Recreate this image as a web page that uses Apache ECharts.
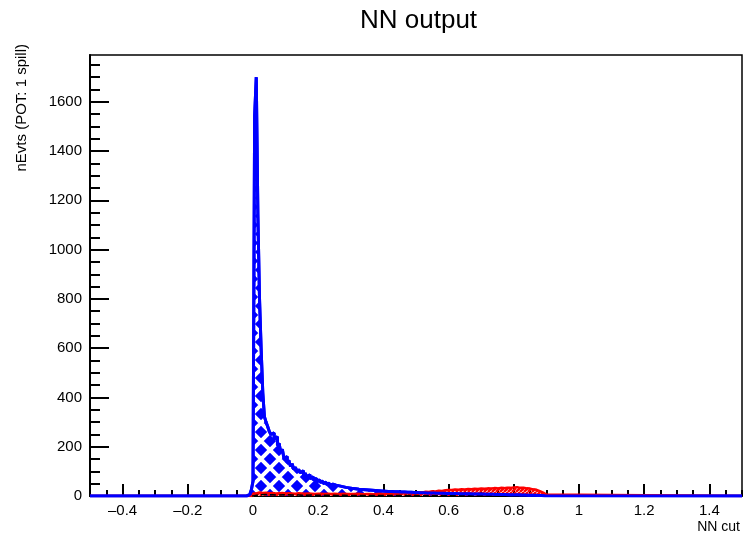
<!DOCTYPE html>
<html>
<head>
<meta charset="utf-8">
<script src="https://cdn.jsdelivr.net/npm/echarts@6/dist/echarts.min.js"></script>
<style>
  html, body { margin: 0; padding: 0; background: #fff; }
  #main { width: 748px; height: 540px; }
</style>
</head>
<body>
<div id="main"></div>
<script>
// x range and tick labels
const xMin = -0.5, xMax = 1.5;
const xLabels = [-0.4, -0.2, 0, 0.2, 0.4, 0.6, 0.8, 1, 1.2, 1.4];
const yMax = 1790;
const yLabels = [0, 200, 400, 600, 800, 1000, 1200, 1400, 1600];

// blue histogram: bins of 0.005 starting at -0.02
const blueStart = -0.02, blueWidth = 0.005;
const blueCounts = [
  2, 5, 10, 25,
  60, 1540, 1700, 1140, 800, 595, 420, 322, 300, 282,
  262, 250, 256, 232, 240, 205, 214, 178, 190, 152,
  160, 134, 145, 120, 131, 108, 117, 99, 108, 94,
  102, 84, 93, 78, 86, 70, 78, 64, 72, 58,
  66, 55, 60, 50, 56, 46, 52, 43, 48, 40,
  44, 37, 41, 34, 38, 32, 35, 30, 33, 28,
  31, 26, 29, 25, 27, 23, 26, 22, 25, 21,
  24, 20, 23, 19, 22, 18, 21, 17, 20, 17,
  19, 16, 18, 15, 18, 15, 17, 14, 17, 14,
  16, 13, 16, 13, 15, 12, 15, 12, 14, 12,
  14, 11, 13, 11, 13, 11, 12, 10, 12, 10,
  12, 10, 11, 9, 11, 9, 11, 9, 10, 9,
  10, 8, 10, 8, 10, 8, 9, 8, 9, 7,
  9, 7, 9, 7, 8, 7, 8, 6, 8, 6,
  8, 6, 7, 6, 7, 5, 7, 5, 6, 5,
  6, 5, 6, 4, 6, 4, 5, 4, 5, 4,
  5, 3, 5, 3, 4, 3, 4, 3, 3, 2,
  3, 2, 3, 2, 2, 2, 2, 1, 1, 1
];

// red histogram: bins of 0.01 from 0
const redStart = 0, redWidth = 0.01;
const redCounts = [
  10, 14, 12, 13, 11, 12, 10, 11, 12, 10,
  11, 10, 9, 11, 10, 9, 10, 9, 8, 9,
  9, 8, 9, 8, 9, 8, 8, 9, 8, 8,
  8, 9, 8, 7, 8, 8, 7, 8, 9, 8,
  9, 10, 10, 11, 12, 11, 13, 12, 14, 13,
  15, 14, 17, 16, 19, 18, 21, 20, 23, 24,
  24, 26, 25, 27, 26, 28, 27, 29, 28, 30,
  29, 31, 30, 32, 31, 33, 32, 34, 33, 35,
  36, 33, 34, 31, 30, 27, 25, 20, 14, 6
];

// black dashed histogram: bins of 0.02 from 0
const blackStart = 0, blackWidth = 0.02;
const blackCounts = [
  5, 6, 5, 4, 5, 4, 4, 3, 4, 3,
  3, 3, 2, 3, 2, 2, 2, 2, 2, 2,
  2, 2, 2, 2, 2, 1, 1, 1, 1, 1,
  1, 1, 1, 1, 1, 1, 1, 1, 1, 1,
  1, 1, 1, 1, 0
];

// turn bin counts into step points (whole x range so zero runs along the axis)
function histPoints(start, width, counts) {
  const pts = [[xMin, 0]];
  counts.forEach((c, i) => pts.push([+(start + i * width).toFixed(4), c]));
  pts.push([+(start + counts.length * width).toFixed(4), 0]);
  pts.push([xMax, 0]);
  return pts;
}

// hatch pattern tiles
function hatch(bg, fg, size, lw, both) {
  const c = document.createElement('canvas');
  c.width = c.height = size;
  const g = c.getContext('2d');
  if (bg) { g.fillStyle = bg; g.fillRect(0, 0, size, size); }
  g.strokeStyle = fg;
  g.lineWidth = lw;
  g.beginPath();
  for (let o = -size; o <= size; o += size) {
    g.moveTo(o, size); g.lineTo(o + size, 0);
    if (both) { g.moveTo(o, 0); g.lineTo(o + size, size); }
  }
  g.stroke();
  return c;
}

function ticks(from, to, step) {
  const out = [];
  for (let v = from; v <= to + 1e-9; v += step) out.push(+v.toFixed(4));
  return out;
}

const chart = echarts.init(document.getElementById('main'));
const font = 'Liberation Sans, Helvetica, Arial, sans-serif';

const option = {
  animation: false,
  title: {
    text: 'NN output',
    left: 355, top: 3,
    textStyle: { fontFamily: font, fontSize: 26, fontWeight: 'normal', color: '#000' }
  },
  grid: {
    left: 90, right: 6, top: 55, bottom: 44,
    show: true, borderColor: '#000', borderWidth: 1.5, backgroundColor: '#fff'
  },
  xAxis: [
    {
      type: 'value', min: xMin, max: xMax,
      axisLine: { onZero: false, lineStyle: { color: '#000', width: 2 } },
      axisTick: { inside: true, length: 12, lineStyle: { color: '#000', width: 2 }, customValues: xLabels },
      axisLabel: {
        customValues: xLabels, color: '#000', fontFamily: font, fontSize: 15, margin: 7,
        formatter: v => String(v).replace('-', '\u2013')
      },
      splitLine: { show: false }
    },
    {
      type: 'value', min: xMin, max: xMax, position: 'bottom',
      axisLine: { show: false, onZero: false },
      axisTick: { inside: true, length: 6, lineStyle: { color: '#000', width: 2 }, customValues: ticks(-0.5, 1.5, 0.05) },
      axisLabel: { show: false },
      splitLine: { show: false }
    }
  ],
  yAxis: [
    {
      type: 'value', min: 0, max: yMax,
      axisLine: { show: true, onZero: false, lineStyle: { color: '#000', width: 2 } },
      axisTick: { show: true, inside: true, length: 19, lineStyle: { color: '#000', width: 2 }, customValues: yLabels },
      axisLabel: { customValues: yLabels, color: '#000', fontFamily: font, fontSize: 15, margin: 8, formatter: v => String(v) },
      splitLine: { show: false }
    },
    {
      type: 'value', min: 0, max: yMax, position: 'left',
      axisLine: { show: false, onZero: false },
      axisTick: { show: true, inside: true, length: 10, lineStyle: { color: '#000', width: 2 }, customValues: ticks(0, 1750, 50) },
      axisLabel: { show: false },
      splitLine: { show: false }
    }
  ],
  series: [
    {
      type: 'line', step: 'end', symbol: 'none', clip: true,
      data: histPoints(blueStart, blueWidth, blueCounts),
      lineStyle: { color: '#0000ff', width: 3 },
      areaStyle: { color: { image: hatch('#0000ff', '#ffffff', 18, 4, true), repeat: 'repeat' }, opacity: 1 },
      z: 2
    },
    {
      type: 'line', step: 'end', symbol: 'none', clip: true,
      data: histPoints(redStart, redWidth, redCounts),
      lineStyle: { color: '#ff0000', width: 2.5 },
      areaStyle: { color: { image: hatch(null, '#ff0000', 4, 2.4, false), repeat: 'repeat' }, opacity: 1 },
      z: 3
    },
    {
      type: 'line', step: 'end', symbol: 'none', clip: true,
      data: histPoints(blackStart, blackWidth, blackCounts),
      lineStyle: { color: '#000', width: 1.5, type: 'dashed' },
      z: 4
    },
    {
      type: 'line', step: 'end', symbol: 'none', clip: true,
      data: histPoints(blueStart, blueWidth, blueCounts),
      lineStyle: { color: '#0000ff', width: 3 },
      z: 5
    }
  ],
  graphic: [
    {
      type: 'text', x: 22, y: 44, rotation: Math.PI / 2,
      style: { text: 'nEvts (POT: 1 spill)', fill: '#000', font: '15px ' + font, align: 'right', verticalAlign: 'middle' }
    },
    {
      type: 'text', right: 8, top: 520,
      style: { text: 'NN cut', fill: '#000', font: '14px ' + font }
    }
  ]
};

chart.setOption(option);
</script>
</body>
</html>
